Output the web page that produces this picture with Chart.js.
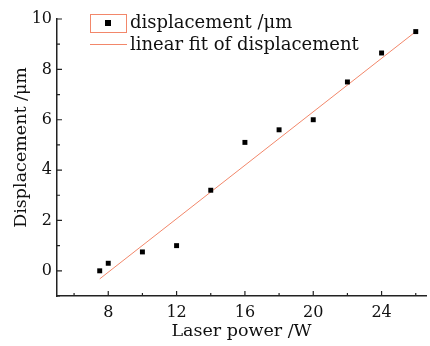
<!DOCTYPE html>
<html>
<head>
 <meta charset="utf-8" />
 <title>Displacement vs laser power</title>
 <script src="https://cdn.jsdelivr.net/npm/chart.js@4/dist/chart.umd.min.js"></script>
 <style>
  html, body { margin: 0; padding: 0; background: #fff; }
  #wrap { width: 430px; height: 346px; position: relative; }
 </style>
</head>
<body>
 <div id="wrap"><canvas id="myChart"></canvas></div>
 <script>
  // measured points
  var powerW = [7.5, 8, 10, 12, 14, 16, 18, 20, 22, 24, 26];
  var dispUm = [0, 0.3, 0.75, 1.0, 3.2, 5.1, 5.6, 6.0, 7.5, 8.65, 9.5];
  // linear fit, two ends
  var fitX = [7.5, 26];
  var fitY = [-0.32, 9.5];
  // tick labels
  var xTicks = [8, 12, 16, 20, 24];
  var yTicks = [0, 2, 4, 6, 8, 10];
  var xMinor = [6, 10, 14, 18, 22, 26];
  var yMinor = [-1, 1, 3, 5, 7, 9];

  var FONT = "'DejaVu Serif', serif";
  var fitColor = "#f2876a";
  var yTitle = "Displacement /\u03bcm";

  // inward ticks, y title + legend drawn by hand
  var extras = {
   id: "extras",
   afterDraw: function (chart) {
    var ctx = chart.ctx;
    var xs = chart.scales.x, ys = chart.scales.y;
    var ca = chart.chartArea;
    ctx.save();
    ctx.strokeStyle = "#222";
    ctx.lineWidth = 1.2;
    ctx.beginPath();
    xTicks.forEach(function (v) { var p = xs.getPixelForValue(v); ctx.moveTo(p, ca.bottom); ctx.lineTo(p, ca.bottom - 5); });
    xMinor.forEach(function (v) { var p = xs.getPixelForValue(v); ctx.moveTo(p, ca.bottom); ctx.lineTo(p, ca.bottom - 3); });
    yTicks.forEach(function (v) { var p = ys.getPixelForValue(v); ctx.moveTo(ca.left, p); ctx.lineTo(ca.left + 5, p); });
    yMinor.forEach(function (v) { var p = ys.getPixelForValue(v); ctx.moveTo(ca.left, p); ctx.lineTo(ca.left + 3, p); });
    ctx.stroke();

    // y title
    ctx.fillStyle = "#111";
    ctx.font = "17.5px " + FONT;
    ctx.translate(21, ys.getPixelForValue(4.9));
    ctx.rotate(-Math.PI / 2);
    ctx.textAlign = "center";
    ctx.textBaseline = "middle";
    ctx.fillText(yTitle, 0, 0);
    ctx.setTransform(1, 0, 0, 1, 0, 0);

    // legend
    ctx.strokeStyle = fitColor;
    ctx.lineWidth = 1;
    ctx.strokeRect(90.5, 14.5, 36, 18);
    ctx.fillStyle = "#000";
    ctx.fillRect(105, 20, 6, 6);
    ctx.beginPath();
    ctx.moveTo(90, 44.5); ctx.lineTo(127, 44.5);
    ctx.stroke();
    ctx.fillStyle = "#111";
    ctx.font = "18px " + FONT;
    ctx.textAlign = "left";
    ctx.textBaseline = "alphabetic";
    ctx.fillText(chart.data.datasets[0].label, 130, 28);
    ctx.fillText(chart.data.datasets[1].label, 130, 50);
    ctx.restore();
   }
  };

  var ctx = document.getElementById("myChart").getContext("2d");
  new Chart(ctx, {
   type: "scatter",
   data: {
    datasets: [{
     label: "displacement /\u03bcm",
     data: powerW.map(function (x, i) { return { x: x, y: dispUm[i] }; }),
     pointStyle: "rect",
     radius: 3.5,
     backgroundColor: "#000",
     borderColor: "#000",
     borderWidth: 0
    }, {
     type: "line",
     label: "linear fit of displacement",
     data: fitX.map(function (x, i) { return { x: x, y: fitY[i] }; }),
     borderColor: fitColor,
     borderWidth: 1,
     pointRadius: 0,
     fill: false
    }]
   },
   options: {
    responsive: true,
    maintainAspectRatio: false,
    animation: false,
    layout: { padding: { top: 19, right: -4, left: 0, bottom: 0 } },
    plugins: { legend: { display: false }, tooltip: { enabled: false } },
    scales: {
     x: {
      type: "linear",
      min: 5, max: 26.6,
      afterBuildTicks: function (s) { s.ticks = xTicks.map(function (v) { return { value: v }; }); },
      afterFit: function (s) { s.height = 50; },
      grid: { drawOnChartArea: false, drawTicks: false },
      border: { color: "#222", width: 1.5 },
      ticks: { padding: 7, color: "#111", font: { family: FONT, size: 16 } },
      title: { display: true, text: "Laser power /W", color: "#111", padding: { top: 2 }, font: { family: FONT, size: 17.5 } }
     },
     y: {
      type: "linear",
      min: -1, max: 10,
      afterBuildTicks: function (s) { s.ticks = yTicks.map(function (v) { return { value: v }; }); },
      afterFit: function (s) { s.width = 57; },
      grid: { drawOnChartArea: false, drawTicks: false },
      border: { color: "#222", width: 1.5 },
      ticks: { padding: 5, color: "#111", font: { family: FONT, size: 16 } }
     }
    }
   },
   plugins: [extras]
  });
 </script>
</body>
</html>
